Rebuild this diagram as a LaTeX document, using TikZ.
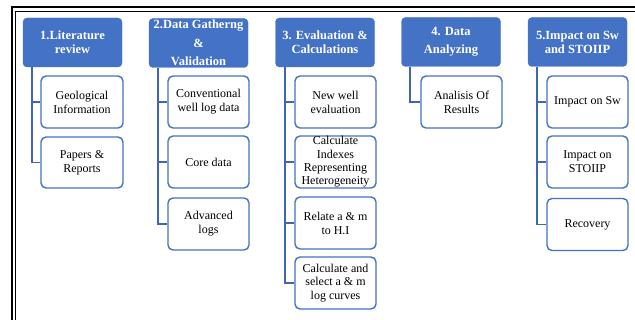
\documentclass[tikz,border=0pt]{standalone}
\usepackage{fontspec}
\setmainfont{Liberation Serif}
\definecolor{hb}{HTML}{4472C4}
\definecolor{lb}{HTML}{3F65B3}
\begin{document}
\begin{tikzpicture}[x=1pt,y=-1pt,
  head/.style={draw=hb, fill=hb, rounded corners=4, minimum width=99, minimum height=49,
    text=white, align=center, inner sep=0, font=\fontsize{12.5}{14}\selectfont\bfseries},
  sub/.style={draw=hb, line width=1.4, fill=white, rounded corners=5, minimum width=81,
    minimum height=52, align=center, inner sep=0, font=\fontsize{12}{14}\selectfont},
  conn/.style={draw=lb, line width=1.8}]
\useasboundingbox (0,0) rectangle (635,320);
% frame
\draw[line width=2.2] (12,321) -- (12,7) -- (636,7);
\draw[line width=1] (15.5,321) -- (15.5,11.5) -- (636,11.5);
% headers
\node[head] (h1) at (72.5,42.5) {1.Literature\\review};
\node[head, font=\fontsize{12.5}{18.5}\selectfont\bfseries] (h2) at (198.5,43) {2.Data Gatherng\\\&\\Validation};
\node[head] (h3) at (325,42.5) {3. Evaluation \&\\Calculations};
\node[head, font=\fontsize{12.5}{18}\selectfont\bfseries] (h4) at (451,42) {4. Data\\Analyzing};
\node[head] (h5) at (577.5,42) {5.Impact on Sw\\and STOIIP};
% column 1
\node[sub, minimum width=82] (c1a) at (82,102) {Geological\\Information};
\node[sub, minimum width=82, minimum height=51] (c1b) at (82,162.5) {Papers \&\\Reports};
% column 2
\node[sub] (c2a) at (208.5,102) {Conventional\\well log data};
\node[sub] (c2b) at (208.5,162) {Core data};
\node[sub] (c2c) at (208.5,224) {Advanced\\logs};
% column 3
\node[sub] (c3a) at (335.5,102) {New well\\evaluation};
\node[sub] (c3b) at (335.5,162) {};
\node[font=\fontsize{12}{13.3}\selectfont, align=center, inner sep=0] (c3bt) at (335.5,162) {Calculate\\Indexes\\Representing\\Heterogeneity};
\node[sub] (c3c) at (335.5,223) {Relate a \& m\\to H.I};
\node[sub, font=\fontsize{12}{13.5}\selectfont] (c3d) at (335.5,283) {Calculate and\\select a \& m\\log curves};
% column 4
\node[sub] (c4a) at (461.5,102) {Analisis Of\\Results};
% column 5
\node[sub] (c5a) at (587.5,102) {Impact on Sw};
\node[sub] (c5b) at (587.5,162) {Impact on\\STOIIP};
\node[sub] (c5c) at (587.5,224.5) {Recovery};
% connectors
\draw[conn] ([xshift=9]h1.south west) |- (c1a.west);
\draw[conn] ([xshift=9]h1.south west) |- (c1b.west);
\draw[conn] ([xshift=9]h2.south west) |- (c2a.west);
\draw[conn] ([xshift=9]h2.south west) |- (c2b.west);
\draw[conn] ([xshift=9]h2.south west) |- (c2c.west);
\draw[conn] ([xshift=10]h3.south west) |- (c3a.west);
\draw[conn] ([xshift=10]h3.south west) |- (c3b.west);
\draw[conn] ([xshift=10]h3.south west) |- (c3c.west);
\draw[conn] ([xshift=10]h3.south west) |- (c3d.west);
\draw[conn] ([xshift=9]h4.south west) |- (c4a.west);
\draw[conn] ([xshift=9]h5.south west) |- (c5a.west);
\draw[conn] ([xshift=9]h5.south west) |- (c5b.west);
\draw[conn] ([xshift=9]h5.south west) |- (c5c.west);
\end{tikzpicture}
\end{document}
